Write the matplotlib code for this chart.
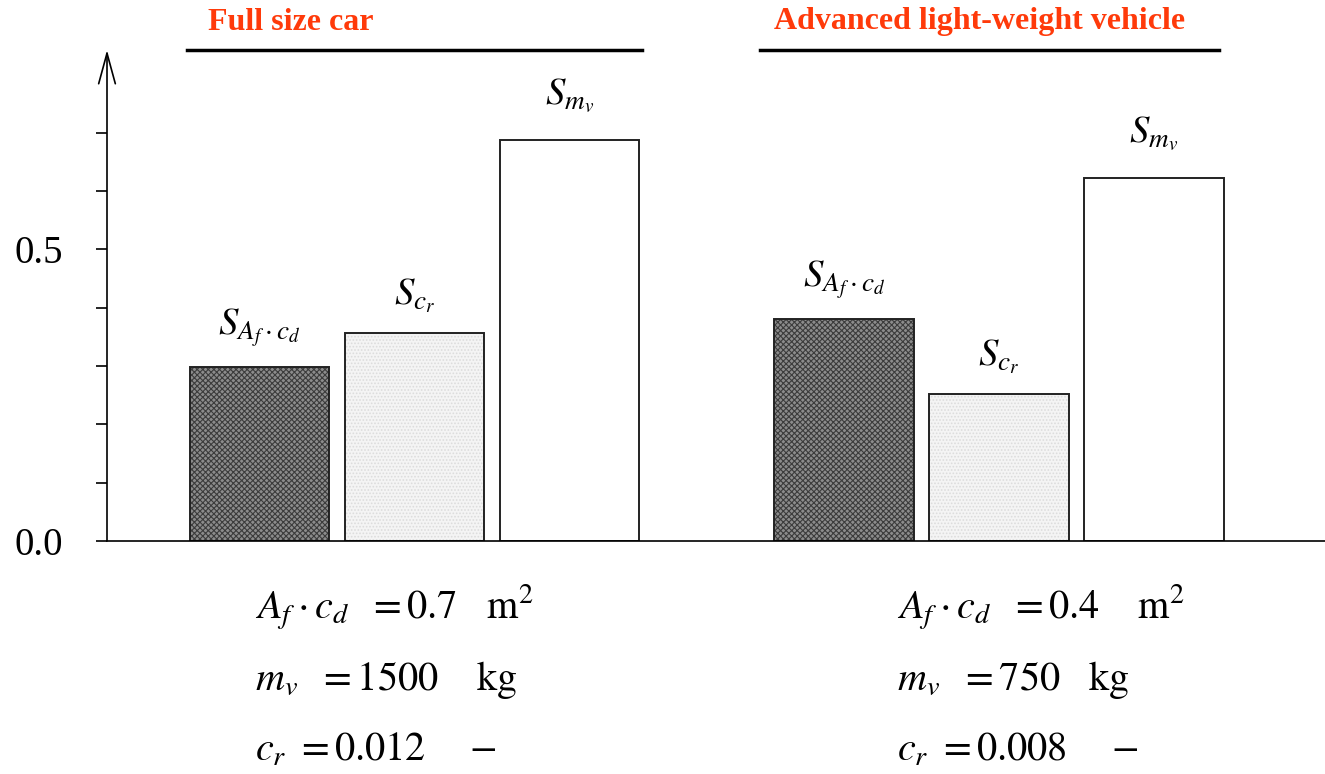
import numpy as np
import matplotlib.pyplot as plt
from matplotlib.transforms import blended_transform_factory

plt.rcParams['font.family'] = ['Liberation Serif', 'DejaVu Serif']
plt.rcParams['mathtext.fontset'] = 'stix'
plt.rcParams['hatch.linewidth'] = 0.8

# Sensitivities of the fuel consumption to the vehicle parameters
groups = ['Full size car', 'Advanced light-weight vehicle']
params = [r'$S_{A_f\cdot c_d}$', r'$S_{c_r}$', r'$S_{m_v}$']
sens_full = [0.298, 0.356, 0.687]
sens_light = [0.380, 0.252, 0.622]
specs_full = [r'$A_f\cdot c_d\ \ = 0.7\ \ \ \mathrm{m}^2$',
              r'$m_v\ \ = 1500\ \ \ \ \mathrm{kg}$',
              r'$c_r\ = 0.012\ \ \ \ -$']
specs_light = [r'$A_f\cdot c_d\ \ = 0.4\ \ \ \ \mathrm{m}^2$',
               r'$m_v\ \ = 750\ \ \ \mathrm{kg}$',
               r'$c_r\ = 0.008\ \ \ \ -$']

fig = plt.figure(figsize=(13.25, 7.74), dpi=100)
ax = fig.add_axes([107 / 1325, 233 / 774, 1 - 107 / 1325, 491 / 774])

group_gap = 3.77
width = 0.9
styles = [dict(facecolor='#8c8c8c', hatch='xxxxxx', edgecolor='#3c3c3c'),
          dict(facecolor='#f4f4f4', hatch='.....', edgecolor='#dcdcdc'),
          dict(facecolor='white', hatch=None, edgecolor='black')]
label_pad = [13, 13, 18]
rule_ext = [(0.02, 0.02), (0.09, -0.03)]
title_shift = [0.12, 0.0]

ymax = 0.842
trans = blended_transform_factory(ax.transData, fig.transFigure)
for g, vals in enumerate([sens_full, sens_light]):
    xs = g * group_gap + np.arange(len(vals))
    for x, v, lab, st, pad in zip(xs, vals, params, styles, label_pad):
        ax.bar(x, v, width=width, color=st['facecolor'], hatch=st['hatch'],
               edgecolor=st['edgecolor'], linewidth=0, zorder=2)
        ax.bar(x, v, width=width, fill=False, edgecolor='#222222',
               linewidth=1.4, zorder=3)
        ax.annotate(lab, (x, v), xytext=(0, pad), textcoords='offset points',
                    ha='center', va='bottom', fontsize=28)

    # group heading with rule underneath
    left = xs[0] - width / 2
    right = xs[-1] + width / 2
    ax.plot([left - rule_ext[g][0], right + rule_ext[g][1]], [1 - 50 / 774] * 2,
            color='black', lw=2.5, transform=trans, clip_on=False)
    ax.text(left + title_shift[g], 1 - 22 / 774, groups[g], transform=trans,
            color='#ff3a0a', fontsize=23, fontweight='bold',
            ha='left', va='center')

# vehicle data below the bars
for x0, specs in [(255 / 1325, specs_full), (897 / 1325, specs_light)]:
    for k, s in enumerate(specs):
        fig.text(x0, 1 - (619 + 71 * k) / 774, s, fontsize=29,
                 ha='left', va='baseline')

ax.set_xlim(-0.984, 6.874)
ax.set_ylim(0, ymax)
for side in ['top', 'right', 'left']:
    ax.spines[side].set_visible(False)
ax.spines['bottom'].set_linewidth(1.2)
ax.spines['bottom'].set_zorder(4)
ax.set_xticks([])

ax.annotate('', xy=(0, 1), xycoords='axes fraction', xytext=(0, 0),
            textcoords='axes fraction',
            arrowprops=dict(arrowstyle='->,head_length=1.1,head_width=0.3',
                            lw=1.2, color='black', mutation_scale=20,
                            shrinkA=0, shrinkB=0))

ax.set_yticks(np.arange(0, 0.75, 0.1))
ax.set_yticklabels(['0.0', '', '', '', '', '0.5', '', ''])
ax.tick_params(axis='y', length=8, width=1.2, pad=24, labelsize=28)

fig.savefig('out.png', dpi=100)
